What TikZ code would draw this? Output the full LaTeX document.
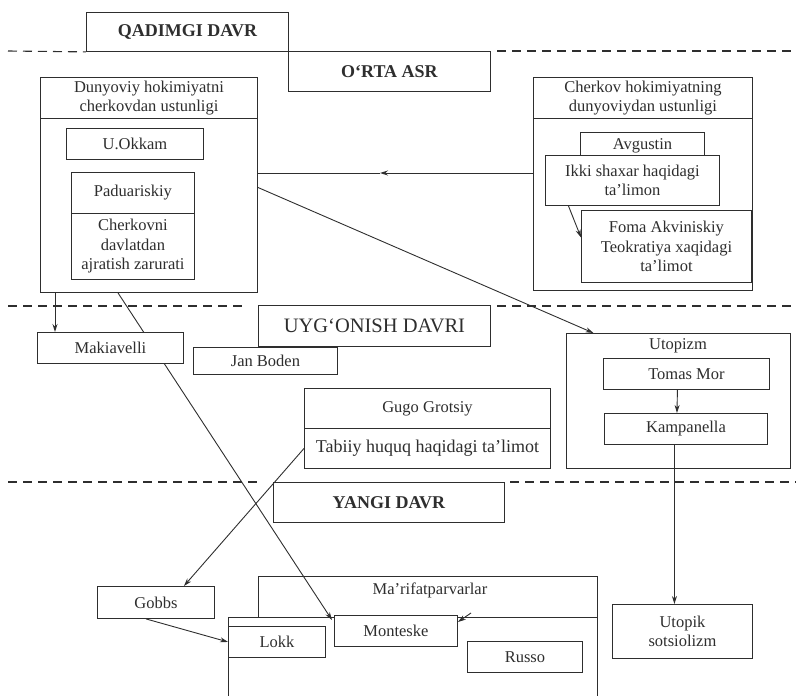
\documentclass[tikz,border=0pt]{standalone}
\usepackage{fontspec}
\setmainfont{Liberation Serif}
\usetikzlibrary{arrows.meta,backgrounds}
\definecolor{ink}{HTML}{2E2E2E}
\tikzset{
  box/.style={draw=ink, fill=white, line width=0.9pt, inner sep=0pt, anchor=north west,
    align=center, text=ink, font=\fontsize{16.5}{19.5}\selectfont},
  era/.style={box, font=\fontsize{18}{20}\selectfont\bfseries},
  sz/.style 2 args={minimum width=#1pt, minimum height=#2pt},
  arr/.style={draw=ink, line width=0.9pt, -{Stealth[length=8pt,width=5pt]}},
  link/.style={draw=ink, line width=0.9pt},
  border/.style={draw=ink, line width=1.1pt, dash pattern=on 9pt off 6pt},
}
\begin{document}
\begin{tikzpicture}[x=1pt,y=-1pt]
  \useasboundingbox (0,0) rectangle (796,696);
  % eras
  \node[era,sz={202}{39}] (qad) at (86,12) {QADIMGI DAVR};
  \node[era,sz={202}{40}] (orta) at (288,51) {O‘RTA ASR};
  \node[box,sz={232}{41},font=\fontsize{20.5}{22}\selectfont] (uyg) at (258,305) {UYG‘ONISH DAVRI};
  \node[era,sz={231}{40}] (yangi) at (273,482) {YANGI DAVR};

  % middle ages, left
  \node[box,sz={217}{41}] (dunH) at (40,77) {Dunyoviy hokimiyatni\\cherkovdan ustunligi};
  \node[box,sz={217}{174}] (dunB) at (40,118) {};
  \node[box,sz={137}{31}] (okkam) at (66,128) {U.Okkam};
  \node[box,sz={123}{41}] (paduH) at (71,172) {Paduariskiy};
  \node[box,sz={123}{66}] (paduB) at (71,213) {Cherkovni\\davlatdan\\ajratish zarurati};

  % middle ages, right
  \node[box,sz={219}{41}] (cherH) at (533,77) {Cherkov hokimiyatning\\dunyoviydan ustunligi};
  \node[box,sz={219}{172}] (cherB) at (533,118) {};
  \node[box,sz={124}{26}] (avg) at (580,132) {Avgustin};
  \node[box,sz={174}{50}] (ikki) at (545,155) {Ikki shaxar haqidagi\\ta’limon};
  \node[box,sz={170}{72}] (foma) at (581,210) {Foma Akviniskiy\\Teokratiya xaqidagi\\ta’limot};

  % renaissance
  \node[box,sz={146}{31}] (maki) at (37,332) {Makiavelli};
  \node[box,sz={144}{27}] (jan) at (193,347) {Jan Boden};
  \node[box,sz={246}{40}] (gugoH) at (304,388) {Gugo Grotsiy};
  \node[box,sz={246}{40},font=\fontsize{18}{20}\selectfont] (gugoB) at (304,428) {Tabiiy huquq haqidagi ta’limot};
  \node[box,sz={224}{135}] (utop) at (566,333) {};
  \node[text=ink,font=\fontsize{16.5}{19.5}\selectfont] (utopT) at (678,346) {Utopizm};
  \node[box,sz={166}{31}] (tomas) at (603,358) {Tomas Mor};
  \node[box,sz={163}{31}] (kamp) at (604,413) {Kampanella};

  % new age
  \node[box,sz={117}{32}] (gobbs) at (97,586) {Gobbs};
  \node[box,fill=none,sz={339}{41}] (marH) at (258,576) {};
  \node[text=ink,font=\fontsize{16.5}{19.5}\selectfont] (marT) at (430,590) {Ma’rifatparvarlar};
  \node[box,fill=none,sz={369}{100}] (marB) at (228,617) {};
  \node[box,sz={97}{31}] (lokk) at (228,626) {Lokk};
  \node[box,sz={123}{31}] (mont) at (334,615) {Monteske};
  \node[box,sz={115}{31}] (russo) at (467,641) {Russo};
  \node[box,sz={140}{54}] (utsots) at (612,604) {Utopik\\sotsiolizm};

  \begin{pgfonlayer}{background}
    \draw[border] (8,51) -- (qad.south west);
    \draw[border] (497,51) -- (796,51);
    \draw[border] (8,306) -- (245,306);
    \draw[border] (497,306) -- (796,306);
    \draw[border] (8,482) -- (262,482);
    \draw[border] (510,482) -- (796,482);
    \draw[arr] ([xshift=78pt]dunB.south west) -- ([xshift=-2pt,yshift=-5pt]mont.north west);
  \end{pgfonlayer}

  % connectors
  \coordinate (midA) at (380,173);
  \draw[arr] (cherB.west |- midA) -- (midA);
  \draw[link] (midA) -- (dunB.east |- midA);
  \draw[arr] ([yshift=18pt]dunB.east) -- ([xshift=-85pt]utop.north);
  \draw[arr] ([xshift=-64pt]ikki.south) -- ([yshift=9pt]foma.west);
  \draw[arr] ([xshift=15pt]dunB.south west) -- ([xshift=18pt]maki.north west);
  \draw[arr] (gugoB.west) -- ([xshift=28pt]gobbs.north);
  \draw[arr] ([xshift=-10pt]gobbs.south) -- (lokk.west);
  \draw[arr] ([xshift=-9pt]tomas.south) -- ([xshift=-9pt]kamp.north);
  \draw[arr] ([xshift=-11.5pt]kamp.south) coordinate (kb) -- (kb |- utsots.north);
  \coordinate (rs) at (471,613);
  \draw[arr] (rs) -- ([yshift=-7pt]mont.north east);
\end{tikzpicture}
\end{document}
